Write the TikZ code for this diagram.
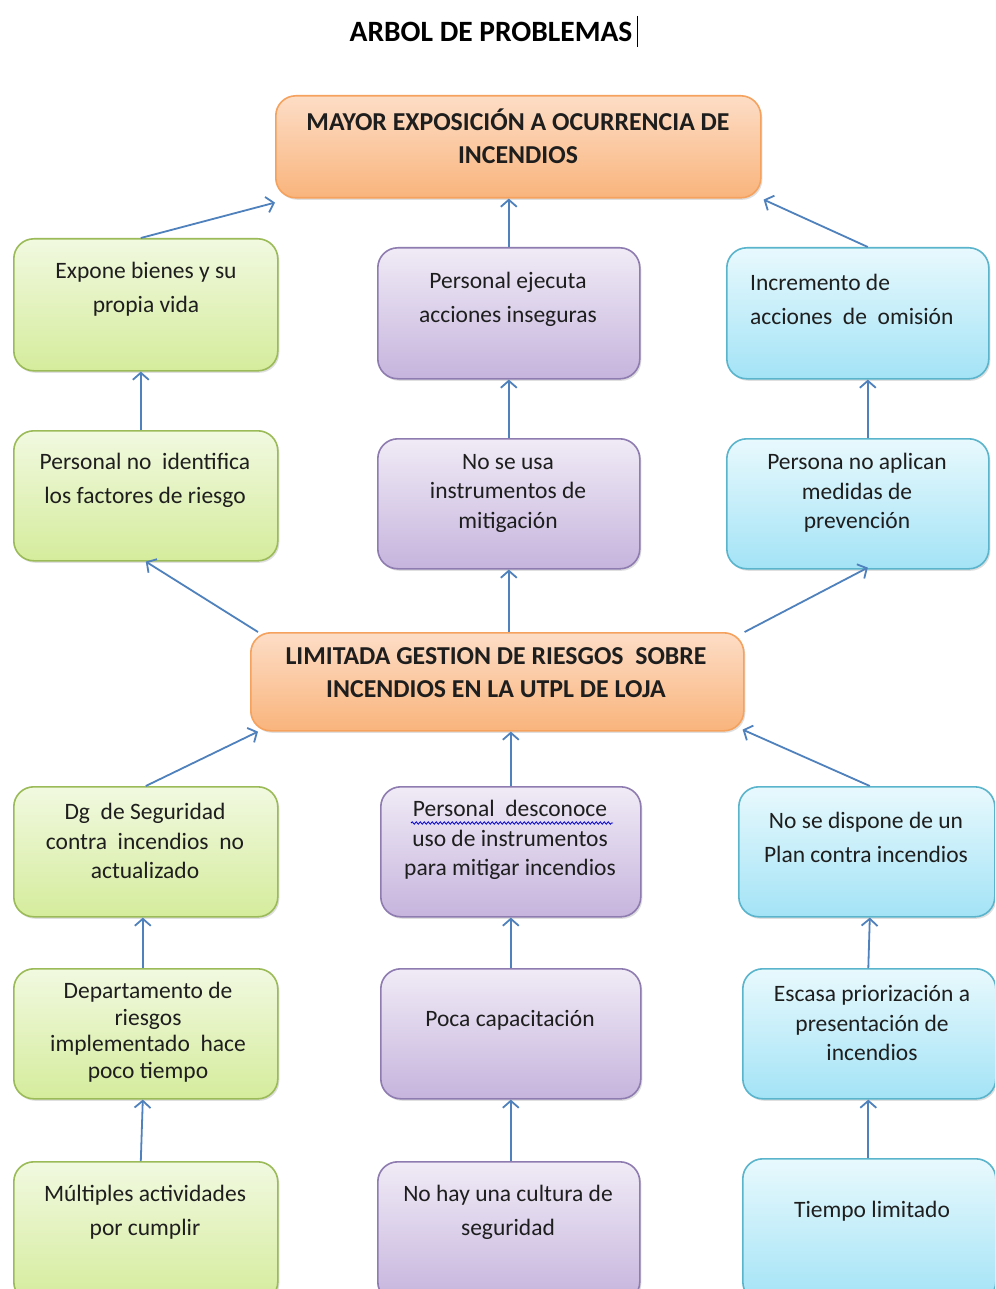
\documentclass[tikz,border=0pt]{standalone}
\usepackage{fontspec}
\setmainfont{Carlito}
\usetikzlibrary{arrows.meta,shadows,calc,decorations.pathmorphing}
\definecolor{arrowblue}{HTML}{4F81BD}
\definecolor{orTop}{HTML}{FDDDC6}
\definecolor{orBot}{HTML}{F9B47C}
\definecolor{orLine}{HTML}{F5A25E}
\definecolor{grTop}{HTML}{F1F9E0}
\definecolor{grBot}{HTML}{D5EC9C}
\definecolor{grLine}{HTML}{9BBB59}
\definecolor{puTop}{HTML}{F0EBF6}
\definecolor{puBot}{HTML}{C6B4DD}
\definecolor{puLine}{HTML}{8E7CB0}
\definecolor{cyTop}{HTML}{E8F9FD}
\definecolor{cyBot}{HTML}{A3E3F6}
\definecolor{cyLine}{HTML}{5AB4CC}
\definecolor{txtcol}{HTML}{1E1E1E}
\newcommand\mybox[6]{\node[#2, minimum width=#5pt, minimum height=#6pt, anchor=north west] (#1) at (#3,#4) {};}
\begin{document}
\begin{tikzpicture}[x=1pt,y=-1pt,
  boxbase/.style={rectangle, rounded corners=20pt, line width=1.6pt, inner sep=0pt,
    drop shadow={shadow xshift=1.5pt, shadow yshift=-2pt, opacity=0.25}},
  orbox/.style={boxbase, draw=orLine, top color=orTop, bottom color=orBot},
  grbox/.style={boxbase, draw=grLine, top color=grTop, bottom color=grBot},
  pubox/.style={boxbase, draw=puLine, top color=puTop, bottom color=puBot},
  cybox/.style={boxbase, draw=cyLine, top color=cyTop, bottom color=cyBot},
  txt/.style={align=center, text=txtcol, inner sep=0pt},
  ls34/.style={txt, font=\fontsize{23.5}{34}\selectfont},
  ls30/.style={txt, font=\fontsize{23.5}{29.5}\selectfont},
  ls27/.style={txt, font=\fontsize{23.5}{26.5}\selectfont},
  ls33b/.style={txt, font=\fontsize{25.8}{33}\selectfont\bfseries},
  arr/.style={draw=arrowblue, line width=1.8pt, -{Straight Barb[length=7pt,width=16pt,line width=1.8pt]}}
]
\clip (0,0) rectangle (995,1289);
\fill[white] (0,0) rectangle (995,1289);

% title
\node[txt, font=\fontsize{29.5}{34}\selectfont\bfseries, text=black] (title) at (491,32) {ARBOL DE PROBLEMAS};
\draw[black, line width=1pt] (637,16) -- (637,47);

% boxes
\mybox{top}{orbox}{275}{95}{485}{102}
\mybox{g1}{grbox}{13}{238}{264}{132}
\mybox{p1}{pubox}{377}{247}{262}{131}
\mybox{c1}{cybox}{726}{247}{262}{131}
\mybox{g2}{grbox}{13}{430}{264}{130}
\mybox{p2}{pubox}{377}{438}{262}{130}
\mybox{c2}{cybox}{726}{438}{262}{130}
\mybox{mid}{orbox}{250}{632}{493}{98}
\mybox{g3}{grbox}{13}{786}{264}{130}
\mybox{p3}{pubox}{380}{786}{260}{130}
\mybox{c3}{cybox}{738}{786}{256}{130}
\mybox{g4}{grbox}{13}{968}{264}{130}
\mybox{p4}{pubox}{380}{968}{260}{130}
\mybox{c4}{cybox}{742}{968}{253}{130}
\mybox{g5}{grbox}{13}{1161}{264}{140}
\mybox{p5}{pubox}{377}{1161}{262}{140}
\mybox{c5}{cybox}{742}{1158}{253}{143}

% texts
\node[ls33b] (toptxt) at (518,136) {MAYOR EXPOSICIÓN A OCURRENCIA DE\\INCENDIOS};
\node[ls34] (g1t) at (146,289) {Expone bienes y su\\propia vida};
\node[ls34] (p1t) at (508,299) {Personal ejecuta\\acciones inseguras};
\node[ls34, align=left, anchor=west] (c1t) at (750,299) {Incremento de\\acciones \ de \ omisión};
\node[ls34] (g2t) at (145,480) {Personal no \ identifica\\los factores de riesgo};
\node[ls30] (p2t) at (508,493) {No se usa\\instrumentos de\\mitigación};
\node[ls30] (c2t) at (857,493) {Persona no aplican\\medidas de\\prevención};
\node[ls33b] (midtxt) at (496,673) {LIMITADA GESTION DE RIESGOS \ SOBRE\\INCENDIOS EN LA UTPL DE LOJA};
\node[ls30] (g3t) at (145,841) {Dg \ de Seguridad\\contra \ incendios \ no\\actualizado};
\node[ls30] (p3t) at (510,840) {Personal \ desconoce\\uso de instrumentos\\para mitigar incendios};
\node[ls34] (c3t) at (866,837) {No se dispone de un\\Plan contra incendios};
\node[ls27] (g4t) at (148,1032) {Departamento de\\riesgos\\implementado \ hace\\poco tiempo};
\node[ls34] (p4t) at (510,1020) {Poca capacitación};
\node[ls30] (c4t) at (872,1023) {Escasa priorización a\\presentación de\\incendios};
\node[ls34] (g5t) at (145,1212) {Múltiples actividades\\por cumplir};
\node[ls34] (p5t) at (508,1212) {No hay una cultura de\\seguridad};
\node[ls34] (c5t) at (872,1211) {Tiempo limitado};

% spell-check squiggle
\draw[blue!80!black, line width=0.8pt, decorate, decoration={snake, amplitude=1.2pt, segment length=4pt}] (411,823) -- (613,823);

% connectors: effects
\draw[arr] ($(g1.north)+(-5,0)$) -- ($(top.south west)+(0,4)$);
\draw[arr] (p1.north) -- (p1.north |- top.south);
\draw[arr] ($(c1.north)+(10,0)$) -- ($(top.south east)+(2,1)$);
\draw[arr] ($(g2.north)+(-5,0)$) -- ($(g1.south)+(-5,0)$);
\draw[arr] (p2.north) -- (p1.south);
\draw[arr] ($(c2.north)+(10,0)$) -- ($(c1.south)+(10,0)$);
\draw[arr] ($(mid.north west)+(8,0)$) -- (g2.south);
\draw[arr] (mid.north -| p2.south) -- (p2.south);
\draw[arr] (mid.north east) -- ($(c2.south)+(10,-2)$);
% connectors: causes
\draw[arr] (g3.north) -- ($(mid.south west)+(8,0)$);
\draw[arr] (p3.north) -- (p3.north |- mid.south);
\draw[arr] ($(c3.north)+(3,0)$) -- ($(mid.south east)+(-2,-2)$);
\draw[arr] ($(g4.north)+(-3,0)$) -- ($(g3.south)+(-3,0)$);
\draw[arr] (p4.north) -- (p3.south);
\draw[arr] ($(c4.north)+(-1,0)$) -- ($(c3.south)+(3,0)$);
\draw[arr] ($(g5.north)+(-5,0)$) -- ($(g4.south)+(-3,0)$);
\draw[arr] ($(p5.north)+(2,0)$) -- ($(p4.south)+(0,0)$);
\draw[arr] ($(c5.north)+(-1,0)$) -- ($(c4.south)+(-1,0)$);
\end{tikzpicture}
\end{document}
